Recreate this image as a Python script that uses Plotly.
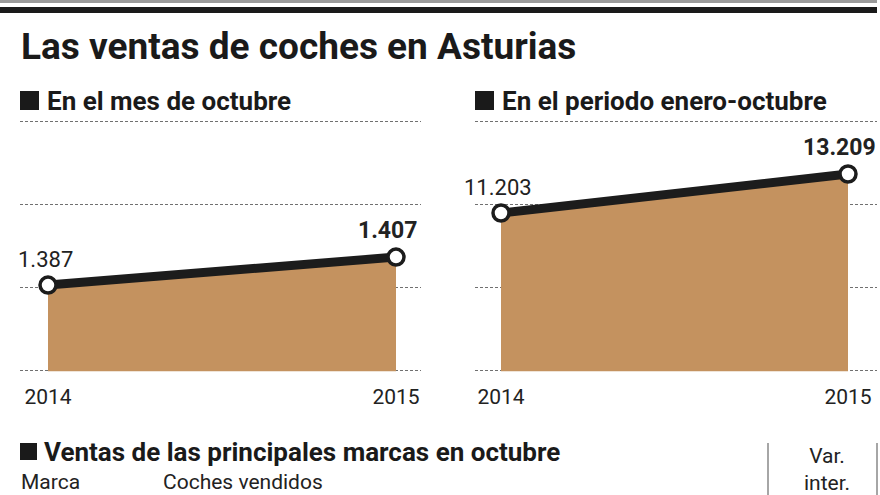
import plotly.graph_objects as go

# ---- data ----
years = [2014, 2015]
year_labels = ["2014", "2015"]
october_sales = [1387, 1407]
jan_oct_sales = [11203, 13209]

title_text = "Las ventas de coches en Asturias"
sub_left = "En el mes de octubre"
sub_right = "En el periodo enero-octubre"
sub_bottom = "Ventas de las principales marcas en octubre"
col_headers = ["Marca", "Coches vendidos"]
var_header = "Var.<br>inter."

W, H = 880, 495
def px(x): return x / W
def py(y): return 1 - y / H

DARK = "#1c1c1c"
FILL = "#c4925f"
GRID = "#707070"
BOLD = "Roboto, sans-serif"
REG = "Roboto, sans-serif"

def fmt(v):
    return f"{v:,}".replace(",", ".")

fig = go.Figure()

for vals, xa, ya in [(october_sales, "x", "y"), (jan_oct_sales, "x2", "y2")]:
    fig.add_trace(go.Scatter(
        x=years, y=vals, xaxis=xa, yaxis=ya, mode="lines+markers",
        fill="tozeroy", fillcolor=FILL,
        line=dict(color=DARK, width=9),
        marker=dict(size=16, color="white", line=dict(color=DARK, width=3.5)),
        hoverinfo="skip", showlegend=False, cliponaxis=False,
    ))

# plot area spans y=119.7..371.3 px; grid lines at 121, 204, 287, 370
PAD = 1.3
yb, yt = py(370 + PAD), py(121 - PAD)
L_K = 1.4          # px per unit (left)
R_K = 0.019441     # px per unit (right)
L0, LD = 1326.3, 59.33
R0, RD = 3127.0, 4269.3

common_x = dict(tickvals=years, ticktext=year_labels, showgrid=False, zeroline=False,
                showline=False, ticks="outside", ticklen=6, tickcolor="rgba(0,0,0,0)",
                tickfont=dict(family=REG, size=21, color="#222"), fixedrange=True)
common_y = dict(showgrid=True, gridcolor=GRID, gridwidth=1, griddash="3px,2px",
                zeroline=False, showline=False, showticklabels=False, ticks="", fixedrange=True)

fig.update_layout(
    width=W, height=H, margin=dict(l=0, r=0, t=0, b=0),
    paper_bgcolor="white", plot_bgcolor="white", separators=",.",
    xaxis=dict(domain=[px(20), px(421)], range=[2014 - 28/348, 2015 + 25/348], anchor="y", **common_x),
    yaxis=dict(domain=[yb, yt], range=[L0 - PAD / L_K, L0 + 3 * LD + PAD / L_K],
               tick0=L0, dtick=LD, anchor="x", **common_y),
    xaxis2=dict(domain=[px(475), px(877)], range=[2014 - 26/347, 2015 + 29/347], anchor="y2", **common_x),
    yaxis2=dict(domain=[yb, yt], range=[R0 - PAD / R_K, R0 + 3 * RD + PAD / R_K],
                tick0=R0, dtick=RD, anchor="x2", **common_y),
)

ann = []
# value labels
for vals, xr, yr in [(october_sales, "x", "y"), (jan_oct_sales, "x2", "y2")]:
    for i, v in enumerate(vals):
        last = i == len(vals) - 1
        ann.append(dict(x=years[i], y=v, xref=xr, yref=yr, text=(f"<b>{fmt(v)}</b>" if last else fmt(v)),
                        showarrow=False, xanchor="center", yanchor="bottom",
                        xshift=(-9 if last else -3), yshift=11,
                        font=dict(family=REG, size=23 if last else 22, color="#222")))

# title & subtitles
ann.append(dict(x=px(19), y=py(46), xref="paper", yref="paper", text=f"<b>{title_text}</b>",
                showarrow=False, xanchor="left", yanchor="middle",
                font=dict(family=BOLD, size=37, color="#1a1a1a")))
for x0, t, yc in [(45, sub_left, 101), (500, sub_right, 101), (42, sub_bottom, 452)]:
    ann.append(dict(x=px(x0), y=py(yc), xref="paper", yref="paper", text=f"<b>{t}</b>",
                    showarrow=False, xanchor="left", yanchor="middle",
                    font=dict(family=BOLD, size=26, color="#1a1a1a")))
# table header
ann.append(dict(x=px(19), y=py(482), xref="paper", yref="paper", text=col_headers[0],
                showarrow=False, xanchor="left", yanchor="middle",
                font=dict(family=REG, size=21, color="#222")))
ann.append(dict(x=px(161), y=py(482), xref="paper", yref="paper", text=col_headers[1],
                showarrow=False, xanchor="left", yanchor="middle",
                font=dict(family=REG, size=21, color="#222")))
ann.append(dict(x=px(827), y=py(469), xref="paper", yref="paper", text=var_header,
                showarrow=False, xanchor="center", yanchor="middle", align="center",
                font=dict(family=REG, size=21, color="#222")))
fig.update_layout(annotations=ann)

shapes = [
    dict(type="rect", xref="paper", yref="paper", x0=0, x1=px(877), y0=py(0), y1=py(3),
         fillcolor="#9a9a9a", line=dict(width=0)),
    dict(type="rect", xref="paper", yref="paper", x0=0, x1=px(877), y0=py(7), y1=py(13),
         fillcolor="#1a1a1a", line=dict(width=0)),
]
for x0, y0, s in [(20, 91, 19), (475, 91, 19), (20, 443, 17)]:
    shapes.append(dict(type="rect", xref="paper", yref="paper", x0=px(x0), x1=px(x0 + s),
                       y0=py(y0), y1=py(y0 + s), fillcolor="#1a1a1a", line=dict(width=0)))
for xv in [768, 877]:
    shapes.append(dict(type="line", xref="paper", yref="paper", x0=px(xv), x1=px(xv),
                       y0=py(443), y1=py(495), line=dict(color="#888", width=1.5)))
fig.update_layout(shapes=shapes)

fig.write_html("out.html", config={"displayModeBar": False},
               post_script="document.body.style.margin='0';document.body.style.padding='0';")
